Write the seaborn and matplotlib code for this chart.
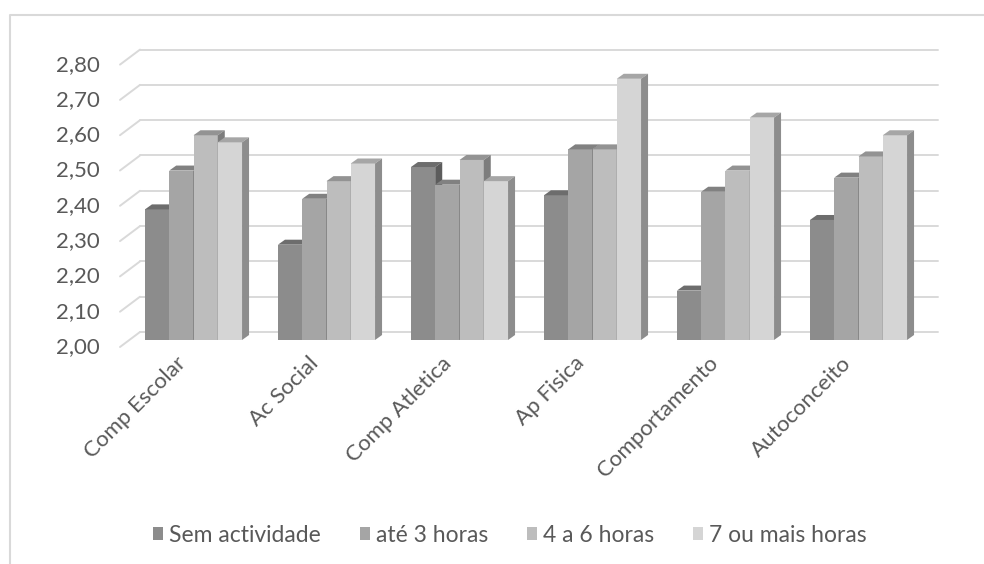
import matplotlib
matplotlib.use('Agg')
import matplotlib.pyplot as plt
from matplotlib.patches import Polygon
from matplotlib.lines import Line2D
from matplotlib.colors import to_rgb
import numpy as np
import pandas as pd
import seaborn as sns

# Data
categories = ['Comp Escolar', 'Ac Social', 'Comp Atletica', 'Ap Fisica', 'Comportamento', 'Autoconceito']
series = ['Sem actividade', 'até 3 horas', '4 a 6 horas', '7 ou mais horas']
sem_actividade = [2.37, 2.27, 2.49, 2.41, 2.14, 2.34]
ate_3_horas    = [2.48, 2.40, 2.44, 2.54, 2.42, 2.46]
de_4_a_6_horas = [2.58, 2.45, 2.51, 2.54, 2.48, 2.52]
mais_7_horas   = [2.56, 2.50, 2.45, 2.74, 2.63, 2.58]
y_ticks  = [2.00, 2.10, 2.20, 2.30, 2.40, 2.50, 2.60, 2.70, 2.80]
y_labels = ['2,00', '2,10', '2,20', '2,30', '2,40', '2,50', '2,60', '2,70', '2,80']
colors = ['#8c8c8c', '#a5a5a5', '#bdbdbd', '#d5d5d5']

df = pd.DataFrame({
    'cat': categories * 4,
    'serie': np.repeat(series, len(categories)),
    'valor': sem_actividade + ate_3_horas + de_4_a_6_horas + mais_7_horas,
})

sns.set_theme(style='white')
plt.rcParams['font.family'] = ['Lato', 'DejaVu Sans']
txt_color = '#595959'
grid_color = '#d9d9d9'

W, H = 984, 564
fig = plt.figure(figsize=(W / 100, H / 100), dpi=100)
ax = fig.add_axes([127 / W, (H - 340) / H, 798 / W, 282.4 / H])

sns.barplot(data=df, x='cat', y='valor', hue='serie', palette=colors, width=0.73,
            errorbar=None, saturation=1, ax=ax, edgecolor='none', linewidth=0)
ax.set_xlim(-0.5, 5.5)
ax.set_ylim(2.0, 2.8)

# pixel -> data scale
sx = 798 / 6
sy = 282.4 / 0.8
dx, dy = 7 / sx, 5 / sy

# 3D look: top and side faces for every real bar
bars = [p for p in ax.patches if p.get_height() > 0]
for p in bars:
    x0, w, top = p.get_x(), p.get_width(), p.get_height()
    p.set_y(2.0)
    p.set_height(top - 2.0)
    z = 3 + x0 * 0.1
    p.set_zorder(z)
    base = np.array(to_rgb(p.get_facecolor()))
    top_face = Polygon([(x0, top), (x0 + w, top), (x0 + w + dx, top + dy), (x0 + dx, top + dy)],
                       closed=True, facecolor=base * 0.78, edgecolor='none', zorder=z, clip_on=False)
    side_face = Polygon([(x0 + w, 2.0), (x0 + w + dx, 2.0 + dy), (x0 + w + dx, top + dy), (x0 + w, top)],
                        closed=True, facecolor=base * 0.66, edgecolor='none', zorder=z, clip_on=False)
    ax.add_patch(top_face)
    ax.add_patch(side_face)

# back wall gridlines + left floor diagonals
for v, lab in zip(y_ticks, y_labels):
    ax.plot([-0.5 + 13 / sx, 5.5 + 13 / sx], [v + 8 / sy, v + 8 / sy],
            color=grid_color, lw=1.4, zorder=1, clip_on=False)
    ax.plot([-0.5 - 7 / sx, -0.5 + 13 / sx], [v - 7 / sy, v + 8 / sy],
            color=grid_color, lw=1.4, zorder=1, clip_on=False)
    ax.text(-0.5 - 27 / sx, v - 7 / sy, lab, ha='right', va='center',
            fontsize=16, color=txt_color)

for i, cat in enumerate(categories):
    ax.text(i - 18 / sx, 2.0 - 13 / sy, cat, rotation=45, rotation_mode='anchor',
            ha='right', va='top', fontsize=16, color=txt_color)

ax.set_axis_off()

sns.move_legend(ax, 'center', bbox_to_anchor=(0.518, 0.051), bbox_transform=fig.transFigure,
                ncol=4, frameon=False, title=None, fontsize=16.5, labelcolor=txt_color,
                handlelength=0.45, handleheight=0.45, handletextpad=0.25, columnspacing=1.7)

# chart area border
fig.add_artist(Line2D([10 / W, 10 / W, 1], [0, 1 - 15 / H, 1 - 15 / H],
                      transform=fig.transFigure, color=grid_color, lw=1.5))

fig.savefig('out.png', dpi=100)
